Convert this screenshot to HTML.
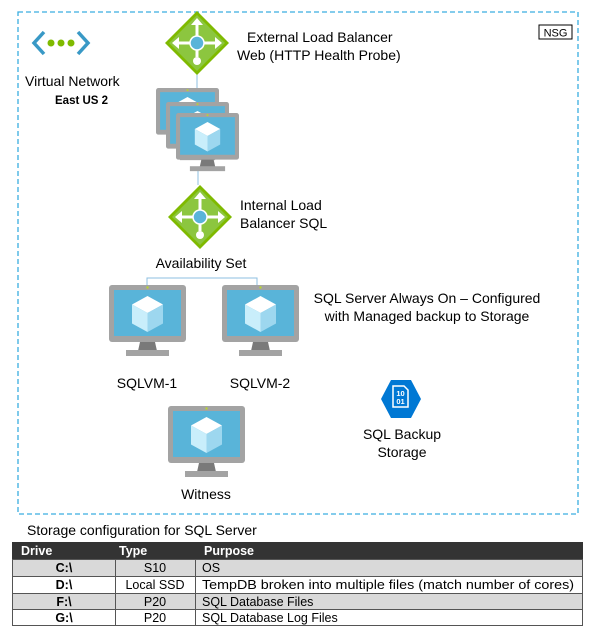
<!DOCTYPE html>
<html><head><meta charset="utf-8"><style>
body{margin:0;background:#fff;}
svg{display:block;font-family:"Liberation Sans",sans-serif;}
</style></head><body>
<svg width="592" height="631" viewBox="0 0 592 631" xmlns="http://www.w3.org/2000/svg">
<defs>
<symbol id="mon" viewBox="0 0 77 72">
<rect x="0" y="0" width="77" height="57" rx="3" fill="#a3a3a3"/>
<rect x="5" y="5" width="67" height="46" fill="#59b4d9"/>
<polygon points="31,57 46,57 48,66 29,66" fill="#7a7a7a"/>
<rect x="17" y="65" width="43" height="6" fill="#a3a3a3"/>
<circle cx="38.5" cy="2.5" r="1.2" fill="#b8d432"/>
<polygon points="38.5,11 54,19.5 38.5,28 23,19.5" fill="#fff"/>
<polygon points="23,19.5 38.5,28 38.5,47 23,38.5" fill="#c9eefb"/>
<polygon points="38.5,28 54,19.5 54,38.5 38.5,47" fill="#9dd7ef"/>
</symbol>
<symbol id="lb" viewBox="0 0 64 64">
<polygon points="32,0 64,32 32,64 0,32" fill="#7fba00"/>
<polygon points="32,4 60,32 32,60 4,32" fill="#8cc63f"/>
<g stroke="#fff" stroke-width="3" fill="none">
<line x1="32" y1="12" x2="32" y2="46"/><line x1="12" y1="32" x2="52" y2="32"/>
</g>
<polygon points="32,7 26,14 38,14" fill="#fff"/>
<polygon points="7,32 14,26 14,38" fill="#fff"/>
<polygon points="57,32 50,26 50,38" fill="#fff"/>
<circle cx="32" cy="50" r="4" fill="#fff"/>
<circle cx="32" cy="32" r="7" fill="#59b4d9" stroke="#fff" stroke-width="1.5"/>
</symbol>
</defs>
<rect x="18" y="12" width="560" height="502" fill="none" stroke="#3aaee0" stroke-width="1.3" stroke-dasharray="5,3"/>
<rect x="539" y="25" width="33" height="14" fill="#fff" stroke="#000" stroke-width="1"/>
<text x="555.5" y="36.5" font-size="11" text-anchor="middle">NSG</text>
<g stroke="#3999c6" stroke-width="3.5" fill="none"><polyline points="44,32 34,43 44,54"/><polyline points="78,32 88,43 78,54"/></g>
<circle cx="51" cy="43" r="3.5" fill="#7fba00"/><circle cx="61" cy="43" r="3.5" fill="#7fba00"/><circle cx="71" cy="43" r="3.5" fill="#7fba00"/>
<text x="25" y="86" font-size="14">Virtual Network</text>
<text x="55" y="104" font-size="11.5" font-weight="bold">East US 2</text>
<g stroke="#8dbfe0" stroke-width="1" fill="none">
<line x1="197" y1="74" x2="197" y2="90"/>
<line x1="198" y1="168" x2="198" y2="185"/>
<polyline points="147,287 147,278 257,278 257,287"/>
</g>
<use href="#lb" x="165" y="11" width="64" height="64"/>
<text x="247" y="42" font-size="14">External Load Balancer</text>
<text x="237" y="60" font-size="14">Web (HTTP Health Probe)</text>
<use href="#mon" x="156" y="88" width="63" height="59"/>
<use href="#mon" x="166" y="102" width="63" height="59"/>
<use href="#mon" x="176" y="113" width="63" height="59"/>
<use href="#lb" x="168" y="185" width="64" height="64"/>
<text x="240" y="210" font-size="14">Internal Load</text>
<text x="240" y="228" font-size="14">Balancer SQL</text>
<text x="201" y="268" font-size="14" text-anchor="middle">Availability Set</text>
<use href="#mon" x="109" y="285" width="77" height="72"/>
<use href="#mon" x="222" y="285" width="77" height="72"/>
<text x="147" y="388" font-size="14" text-anchor="middle">SQLVM-1</text>
<text x="260" y="388" font-size="14" text-anchor="middle">SQLVM-2</text>
<text x="427" y="303" font-size="14" text-anchor="middle">SQL Server Always On – Configured</text>
<text x="427" y="321" font-size="14" text-anchor="middle">with Managed backup to Storage</text>
<use href="#mon" x="168" y="406" width="77" height="72"/>
<text x="206" y="499" font-size="14" text-anchor="middle">Witness</text>
<polygon points="381,399 391,380 411,380 421,399 411,418 391,418" fill="#0078d4"/>
<path d="M393,386 h11 l4,4 v17 h-15 z" fill="none" stroke="#fff" stroke-width="1.5"/>
<text x="400.5" y="396" font-size="7.5" font-weight="bold" fill="#fff" text-anchor="middle">10</text>
<text x="400.5" y="404" font-size="7.5" font-weight="bold" fill="#fff" text-anchor="middle">01</text>
<text x="402" y="439" font-size="14" text-anchor="middle">SQL Backup</text>
<text x="402" y="457" font-size="14" text-anchor="middle">Storage</text>
<text x="27" y="535" font-size="14">Storage configuration for SQL Server</text>
<rect x="12" y="542" width="571" height="17" fill="#333"/>
<rect x="12" y="559" width="571" height="17" fill="#d9d9d9"/>
<rect x="12" y="576" width="571" height="17" fill="#fff"/>
<rect x="12" y="593" width="571" height="16" fill="#d9d9d9"/>
<rect x="12" y="609" width="571" height="17" fill="#fff"/>
<g stroke="#555" stroke-width="1" fill="none">
<rect x="12.5" y="559.5" width="570" height="66"/>
<line x1="12" y1="576.5" x2="583" y2="576.5"/><line x1="12" y1="593.5" x2="583" y2="593.5"/><line x1="12" y1="609.5" x2="583" y2="609.5"/>
<line x1="115.5" y1="559" x2="115.5" y2="626"/><line x1="195.5" y1="559" x2="195.5" y2="626"/>
</g>
<g font-size="12.5" font-weight="bold" fill="#fff">
<text x="21" y="555">Drive</text><text x="119" y="555">Type</text><text x="204" y="555">Purpose</text>
</g>
<g font-size="12.5">
<text x="64" y="572" font-weight="bold" text-anchor="middle">C:\</text>
<text x="64" y="589" font-weight="bold" text-anchor="middle">D:\</text>
<text x="64" y="606" font-weight="bold" text-anchor="middle">F:\</text>
<text x="64" y="622" font-weight="bold" text-anchor="middle">G:\</text>
<text x="155" y="572" text-anchor="middle">S10</text>
<text x="155" y="589" text-anchor="middle">Local SSD</text>
<text x="155" y="606" text-anchor="middle">P20</text>
<text x="155" y="622" text-anchor="middle">P20</text>
<text x="202" y="572">OS</text>
<text x="202" y="589" textLength="372" lengthAdjust="spacingAndGlyphs">TempDB broken into multiple files (match number of cores)</text>
<text x="202" y="606">SQL Database Files</text>
<text x="202" y="622">SQL Database Log Files</text>
</g>
</svg>
</body></html>
